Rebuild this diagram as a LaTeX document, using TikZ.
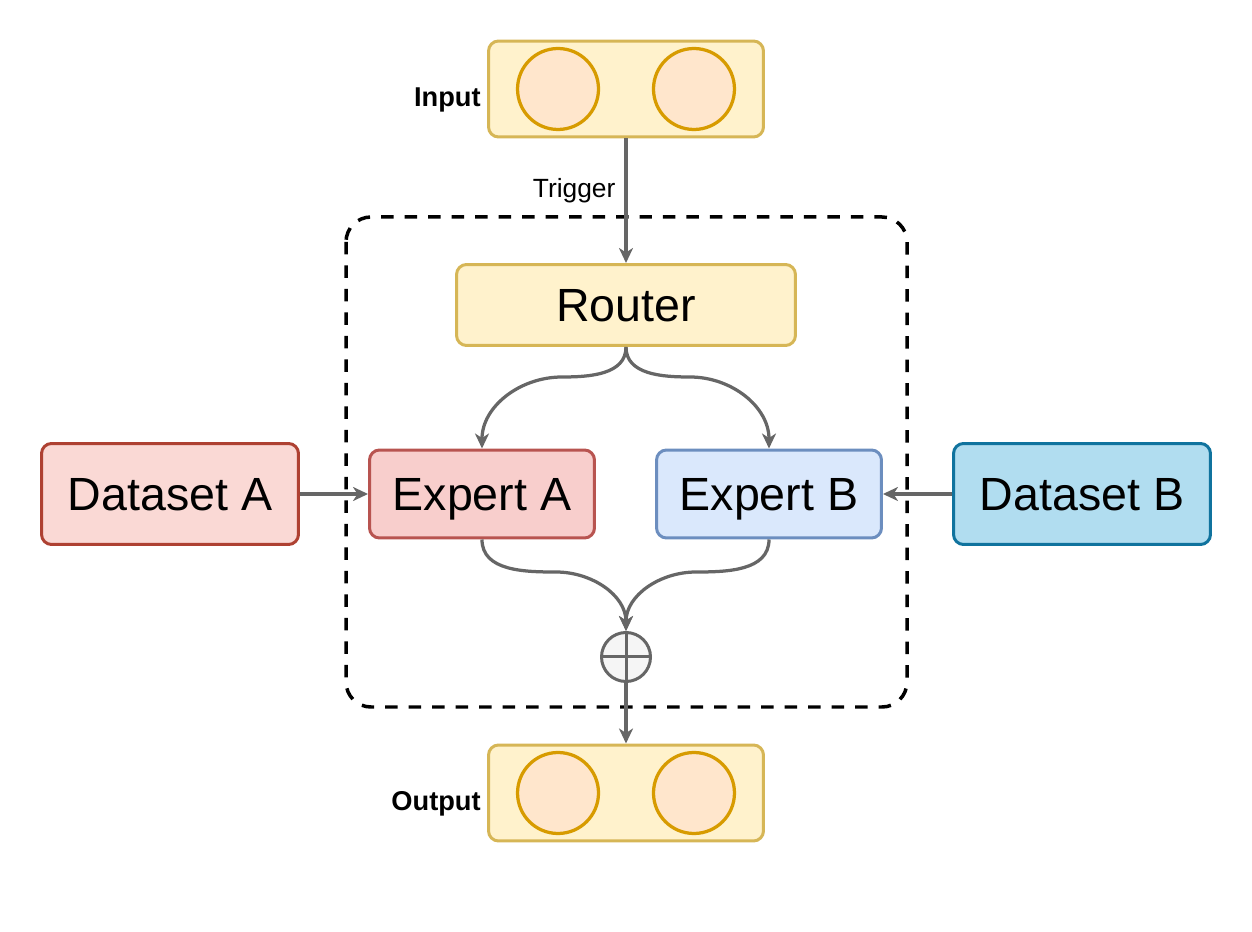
\documentclass[tikz,border=0pt]{standalone}
\usepackage{fontspec}
\setmainfont{Liberation Sans}
\usepackage{tikz}
\usetikzlibrary{arrows.meta, positioning, backgrounds}
\definecolor{yellowfill}{HTML}{FFF2CC}
\definecolor{yellowline}{HTML}{D6B656}
\definecolor{neuronfill}{HTML}{FFE6CC}
\definecolor{neuronline}{HTML}{D79B00}
\definecolor{redfill}{HTML}{F8CECC}
\definecolor{redline}{HTML}{B85450}
\definecolor{datafillA}{HTML}{FAD9D5}
\definecolor{datalineA}{HTML}{AE4132}
\definecolor{bluefill}{HTML}{DAE8FC}
\definecolor{blueline}{HTML}{6C8EBF}
\definecolor{datafillB}{HTML}{B1DDF0}
\definecolor{datalineB}{HTML}{10739E}
\definecolor{linegray}{HTML}{666666}
\definecolor{plusfill}{HTML}{F5F5F5}
\tikzset{myboxcolor/.style 2 args = {draw=#1,fill=#2,line width=0.06cm,rounded corners=0.2cm,inner sep=0pt,
	font=\fontsize{26.5}{30}\selectfont,text height=19pt,text depth=0pt}}
\tikzset{myarrow/.style = {draw=linegray,line width=0.065cm,-{Stealth[length=0.3cm,width=0.28cm,inset=0.09cm]}}}
\tikzset{myneuron/.style = {circle,draw=neuronline,fill=neuronfill,line width=0.065cm,minimum size=1.62cm,inner sep=0pt}}
\tikzset{mylabel/.style = {inner sep=0pt,font=\fontsize{15.5}{18}\selectfont\bfseries,text height=11pt,text depth=0pt}}
\NewDocumentCommand{\fneurons}{m m}{%
	\node[myboxcolor={yellowline}{yellowfill},minimum width=5.5cm,minimum height=1.92cm] (#1) at (626,#2) {};
	\node[myneuron] (#1-a) at ([xshift=-1.36cm]#1.center) {};
	\node[myneuron] (#1-b) at ([xshift=1.36cm]#1.center) {};
}

\begin{document}
\begin{tikzpicture}[x=0.02cm,y=-0.02cm]
\useasboundingbox (0,0) rectangle (1252,932);
\fneurons{inbox}{89}
\fneurons{outbox}{793}
\node[mylabel,left=0.12cm of inbox,yshift=-0.15cm] (inlabel) {Input};
\node[mylabel,left=0.12cm of outbox,yshift=-0.15cm] (outlabel) {Output};
\node[myboxcolor={yellowline}{yellowfill},minimum width=6.78cm,minimum height=1.62cm] (router) at (626,305) {Router};
\node[myboxcolor={redline}{redfill},minimum width=4.5cm,minimum height=1.76cm] (expA) at (482,494) {Expert A};
\node[myboxcolor={blueline}{bluefill},minimum width=4.5cm,minimum height=1.76cm] (expB) at (769,494) {Expert B};
\node[myboxcolor={datalineA}{datafillA},minimum width=5.14cm,minimum height=2.02cm] (dataA) at (170,494) {Dataset A};
\node[myboxcolor={datalineB}{datafillB},minimum width=5.14cm,minimum height=2.02cm] (dataB) at (1082,494) {Dataset B};
\node[circle,draw=linegray,fill=plusfill,line width=0.06cm,minimum size=0.98cm,inner sep=0pt,
	path picture={\draw[linegray,line width=0.06cm] (path picture bounding box.north) -- (path picture bounding box.south)
		(path picture bounding box.west) -- (path picture bounding box.east);}] (plus) at (626,657) {};
% bend points of the curved connectors
\coordinate (splitA) at (562,377);
\coordinate (splitB) at (690,377);
\coordinate (mergeA) at (556,572);
\coordinate (mergeB) at (696,572);
\begin{pgfonlayer}{background}
\draw[line width=0.07cm,dash pattern=on 0.25cm off 0.22cm,rounded corners=0.5cm] (346,217) rectangle (907,707);
\end{pgfonlayer}
% connectors
\draw[myarrow] (inbox.south) -- node[pos=0.4,left=0.18cm,inner sep=0pt,font=\fontsize{15}{18}\selectfont,text height=10.5pt,text depth=0pt] {Trigger} (router.north);
\draw[myarrow] (router.south) to[out=-90,in=0] (splitA) to[out=180,in=90] (expA.north);
\draw[myarrow] (router.south) to[out=-90,in=180] (splitB) to[out=0,in=90] (expB.north);
\draw[myarrow] (expA.south) to[out=-90,in=180] (mergeA) to[out=0,in=90] (plus.north);
\draw[myarrow] (expB.south) to[out=-90,in=0] (mergeB) to[out=180,in=90] (plus.north);
\draw[myarrow] (dataA) -- (expA);
\draw[myarrow] (dataB) -- (expB);
\draw[myarrow] (plus.south) -- (outbox.north);
\end{tikzpicture}
\end{document}
